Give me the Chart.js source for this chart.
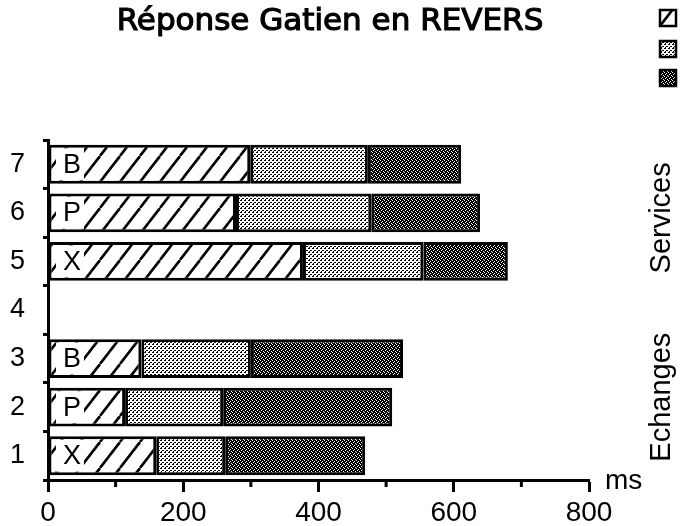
<!DOCTYPE html>
<html lang="fr">
<head>
<meta charset="UTF-8" />
<title>Réponse Gatien en REVERS</title>
<script src="https://cdn.jsdelivr.net/npm/chart.js"></script>
<style>
  html, body { margin: 0; padding: 0; background: #fff; }
  #wrap { width: 684px; height: 526px; }
</style>
</head>
<body>
<div id="wrap"><canvas id="chart" width="684" height="526"></canvas></div>
<script>
  // data (ms)
  const categories = ['1', '2', '3', '4', '5', '6', '7'];
  const barLetters = ['X', 'P', 'B', '', 'X', 'P', 'B'];
  const groupNames = ['Echanges', 'Services'];
  const seg1 = [160, 114, 138, null, 377, 278, 299];
  const seg2 = [102, 145, 162, null, 178, 200, 174];
  const seg3 = [207, 250, 225, null, 125, 161, 138];
  const xTickValues = [0, 200, 400, 600, 800];
  const minorTicks = [100, 300, 500, 700];
  const titleText = 'Réponse Gatien en REVERS';
  const unitText = 'ms';

  const canvas = document.getElementById('chart');
  const ctx = canvas.getContext('2d');

  function makePattern(w, h, draw) {
    const c = document.createElement('canvas');
    c.width = w; c.height = h;
    const g = c.getContext('2d');
    g.fillStyle = '#fff';
    g.fillRect(0, 0, w, h);
    draw(g);
    return ctx.createPattern(c, 'repeat');
  }

  const hatch = makePattern(20, 26, g => {
    g.strokeStyle = '#000';
    g.lineWidth = 2.6;
    [-20, 0, 20].forEach(dx => {
      g.beginPath();
      g.moveTo(dx, 26);
      g.lineTo(dx + 20, 0);
      g.stroke();
    });
  });

  const light = makePattern(4, 4, g => {
    g.fillStyle = '#000';
    [[0, 0], [1, 0], [2, 2], [3, 2], [1, 3]].forEach(p => g.fillRect(p[0], p[1], 1, 1));
  });

  const dark = makePattern(4, 4, g => {
    g.fillStyle = '#000';
    g.fillRect(0, 0, 4, 4);
    g.fillStyle = '#fff';
    [[0, 0], [2, 1], [1, 2], [3, 3]].forEach(p => g.fillRect(p[0], p[1], 1, 1));
  });

  const fills = [hatch, light, dark];

  const decor = {
    id: 'decor',
    afterDraw(chart) {
      const c = chart.ctx;
      const xs = chart.scales.x;
      const ys = chart.scales.y;
      c.save();

      // title, slightly heavier than the regular face
      c.fillStyle = '#000';
      c.strokeStyle = '#000';
      c.lineWidth = 1.2;
      c.font = '31px "DejaVu Sans"';
      c.textAlign = 'center';
      c.textBaseline = 'middle';
      c.fillText(titleText, 330, 22);
      c.strokeText(titleText, 330, 22);

      // minor ticks on x axis
      c.lineWidth = 3;
      minorTicks.forEach(v => {
        const x = xs.getPixelForValue(v);
        c.beginPath();
        c.moveTo(x, xs.top);
        c.lineTo(x, xs.top + 7);
        c.stroke();
      });

      // unit
      c.font = '28px "Liberation Sans"';
      c.textAlign = 'left';
      c.fillText(unitText, xs.right + 16, xs.top + 1);

      // letters in the first segment
      const x0 = xs.getPixelForValue(0);
      barLetters.forEach((l, i) => {
        if (!l) return;
        const y = ys.getPixelForValue(i);
        c.fillStyle = '#fff';
        c.fillRect(x0 + 8, y - 16, 28, 32);
        c.fillStyle = '#000';
        c.font = '27px "Liberation Sans"';
        c.textAlign = 'left';
        c.fillText(l, x0 + 15, y + 1);
      });

      // group names on the right
      c.font = '29px "Liberation Sans"';
      c.textAlign = 'center';
      [[groupNames[0], ys.getPixelForValue(1) - 10], [groupNames[1], ys.getPixelForValue(5) + 5]].forEach(g => {
        c.save();
        c.translate(662, g[1]);
        c.rotate(-Math.PI / 2);
        c.fillText(g[0], 0, 0);
        c.restore();
      });

      // legend boxes (no text in the original)
      [10, 41, 70].forEach((y, i) => {
        c.fillStyle = fills[i];
        c.fillRect(660, y, 16, 16);
        c.strokeStyle = '#000';
        c.lineWidth = 2.5;
        c.strokeRect(660, y, 16, 16);
      });
      c.restore();
    }
  };

  const common = { borderColor: '#000', borderWidth: 3, borderSkipped: false };

  new Chart(ctx, {
    type: 'bar',
    data: {
      labels: categories,
      datasets: [
        Object.assign({ label: 's1', data: seg1, backgroundColor: hatch }, common),
        Object.assign({ label: 's2', data: seg2, backgroundColor: light }, common),
        Object.assign({ label: 's3', data: seg3, backgroundColor: dark }, common)
      ]
    },
    options: {
      indexAxis: 'y',
      responsive: false,
      animation: false,
      layout: { padding: { top: 140, right: 95, left: 0, bottom: 0 } },
      datasets: { bar: { barPercentage: 0.8, categoryPercentage: 1 } },
      plugins: {
        legend: { display: false },
        title: { display: false },
        tooltip: { enabled: false }
      },
      scales: {
        x: {
          stacked: true,
          min: 0,
          max: 800,
          afterBuildTicks(s) { s.ticks = xTickValues.map(v => ({ value: v })); },
          ticks: { color: '#000', font: { family: 'Liberation Sans', size: 28 }, padding: 4, maxRotation: 0 },
          grid: { drawOnChartArea: false, tickLength: 12, tickColor: '#000', tickWidth: 3 },
          border: { color: '#000', width: 3 },
          afterFit(s) { s.height = 46; }
        },
        y: {
          stacked: true,
          reverse: true,
          ticks: { color: '#000', font: { family: 'Liberation Sans', size: 27 }, padding: 18 },
          grid: { drawOnChartArea: false, offset: true, tickLength: 5, tickColor: '#000', tickWidth: 3 },
          border: { color: '#000', width: 3 },
          afterFit(s) { s.width = 48; }
        }
      }
    },
    plugins: [decor]
  });
</script>
</body>
</html>
